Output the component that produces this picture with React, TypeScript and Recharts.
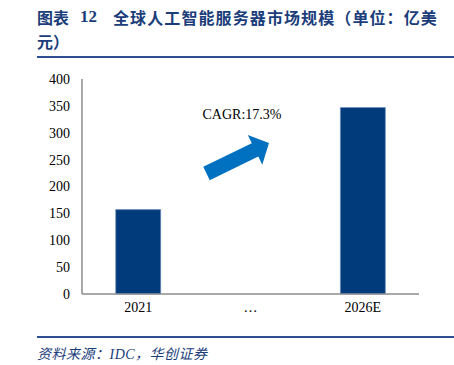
import { BarChart, Bar, XAxis, YAxis } from 'recharts'

const categories = ['2021', '…', '2026E']
const marketSize = [157, null, 347]
const yTicks = [0, 50, 100, 150, 200, 250, 300, 350, 400]

const data = categories.map((name, i) => ({ name, value: marketSize[i] }))

const navy = '#1b3d7a'
const serif = '"Liberation Serif", "Times New Roman", serif'

export default function App() {
  return (
    <div
      style={{
        position: 'absolute',
        left: 0,
        top: 0,
        width: 454,
        height: 365,
        background: '#fff',
        fontFamily: serif,
      }}
    >
      <div
        style={{
          position: 'absolute',
          left: 37,
          top: 5,
          fontSize: 16,
          fontWeight: 700,
          color: navy,
          fontFamily: '"Noto Sans CJK SC", sans-serif',
          whiteSpace: 'nowrap',
        }}
      >
        图表
      </div>
      <div
        style={{
          position: 'absolute',
          left: 80,
          top: 7,
          fontSize: 17,
          fontWeight: 700,
          color: navy,
          fontFamily: serif,
        }}
      >
        12
      </div>
      <div
        style={{
          position: 'absolute',
          left: 113,
          top: 5,
          fontSize: 16,
          fontWeight: 700,
          letterSpacing: 1.1,
          color: navy,
          fontFamily: '"Noto Sans CJK SC", sans-serif',
          whiteSpace: 'nowrap',
        }}
      >
        全球人工智能服务器市场规模（单位：亿美
      </div>
      <div
        style={{
          position: 'absolute',
          left: 37,
          top: 29,
          fontSize: 16,
          fontWeight: 700,
          color: navy,
          fontFamily: '"Noto Sans CJK SC", sans-serif',
        }}
      >
        元）
      </div>
      <div
        style={{ position: 'absolute', left: 37, top: 56, width: 417, height: 2, background: '#2e4f8f' }}
      />

      <div style={{ position: 'absolute', left: 0, top: 0 }}>
        <BarChart
          width={454}
          height={330}
          data={data}
          margin={{ top: 79, right: 35, left: 32, bottom: 6 }}
          barCategoryGap='30%'
        >
          <XAxis
            dataKey='name'
            height={30}
            tickLine={false}
            axisLine={{ stroke: '#8c8c8c', strokeWidth: 1.5 }}
            tick={{ fill: '#000', fontSize: 14, fontFamily: serif }}
          />
          <YAxis
            width={50}
            domain={[0, 400]}
            ticks={yTicks}
            interval={0}
            tickLine={false}
            tickSize={4}
            tickMargin={8}
            axisLine={{ stroke: '#8c8c8c', strokeWidth: 1.5 }}
            tick={{ fill: '#000', fontSize: 14, fontFamily: serif }}
          />
          <Bar dataKey='value' fill='#023b7b' stroke='#6f8fbf' strokeWidth={0.6} isAnimationActive={false} />
        </BarChart>
      </div>

      <svg
        width={454}
        height={365}
        style={{ position: 'absolute', left: 0, top: 0, pointerEvents: 'none' }}
      >
        <text x={242} y={119} textAnchor='middle' fontSize={14} fontFamily={serif} fill='#000'>
          CAGR:17.3%
        </text>
        <g transform='translate(206.5,173.5) rotate(-26)'>
          <polygon points='0,-7.4 54,-7.4 54,-16.5 69.5,0 54,16.5 54,7.4 0,7.4' fill='#0070c0' />
        </g>
      </svg>

      <div
        style={{ position: 'absolute', left: 37, top: 336, width: 417, height: 2, background: '#2e4f8f' }}
      />
      <div
        style={{
          position: 'absolute',
          left: 37,
          top: 343,
          fontSize: 14,
          fontStyle: 'italic',
          letterSpacing: 0.5,
          color: navy,
          fontFamily: '"Liberation Serif", "Noto Sans CJK SC", serif',
          whiteSpace: 'nowrap',
        }}
      >
        资料来源：IDC，华创证券
      </div>
    </div>
  )
}
